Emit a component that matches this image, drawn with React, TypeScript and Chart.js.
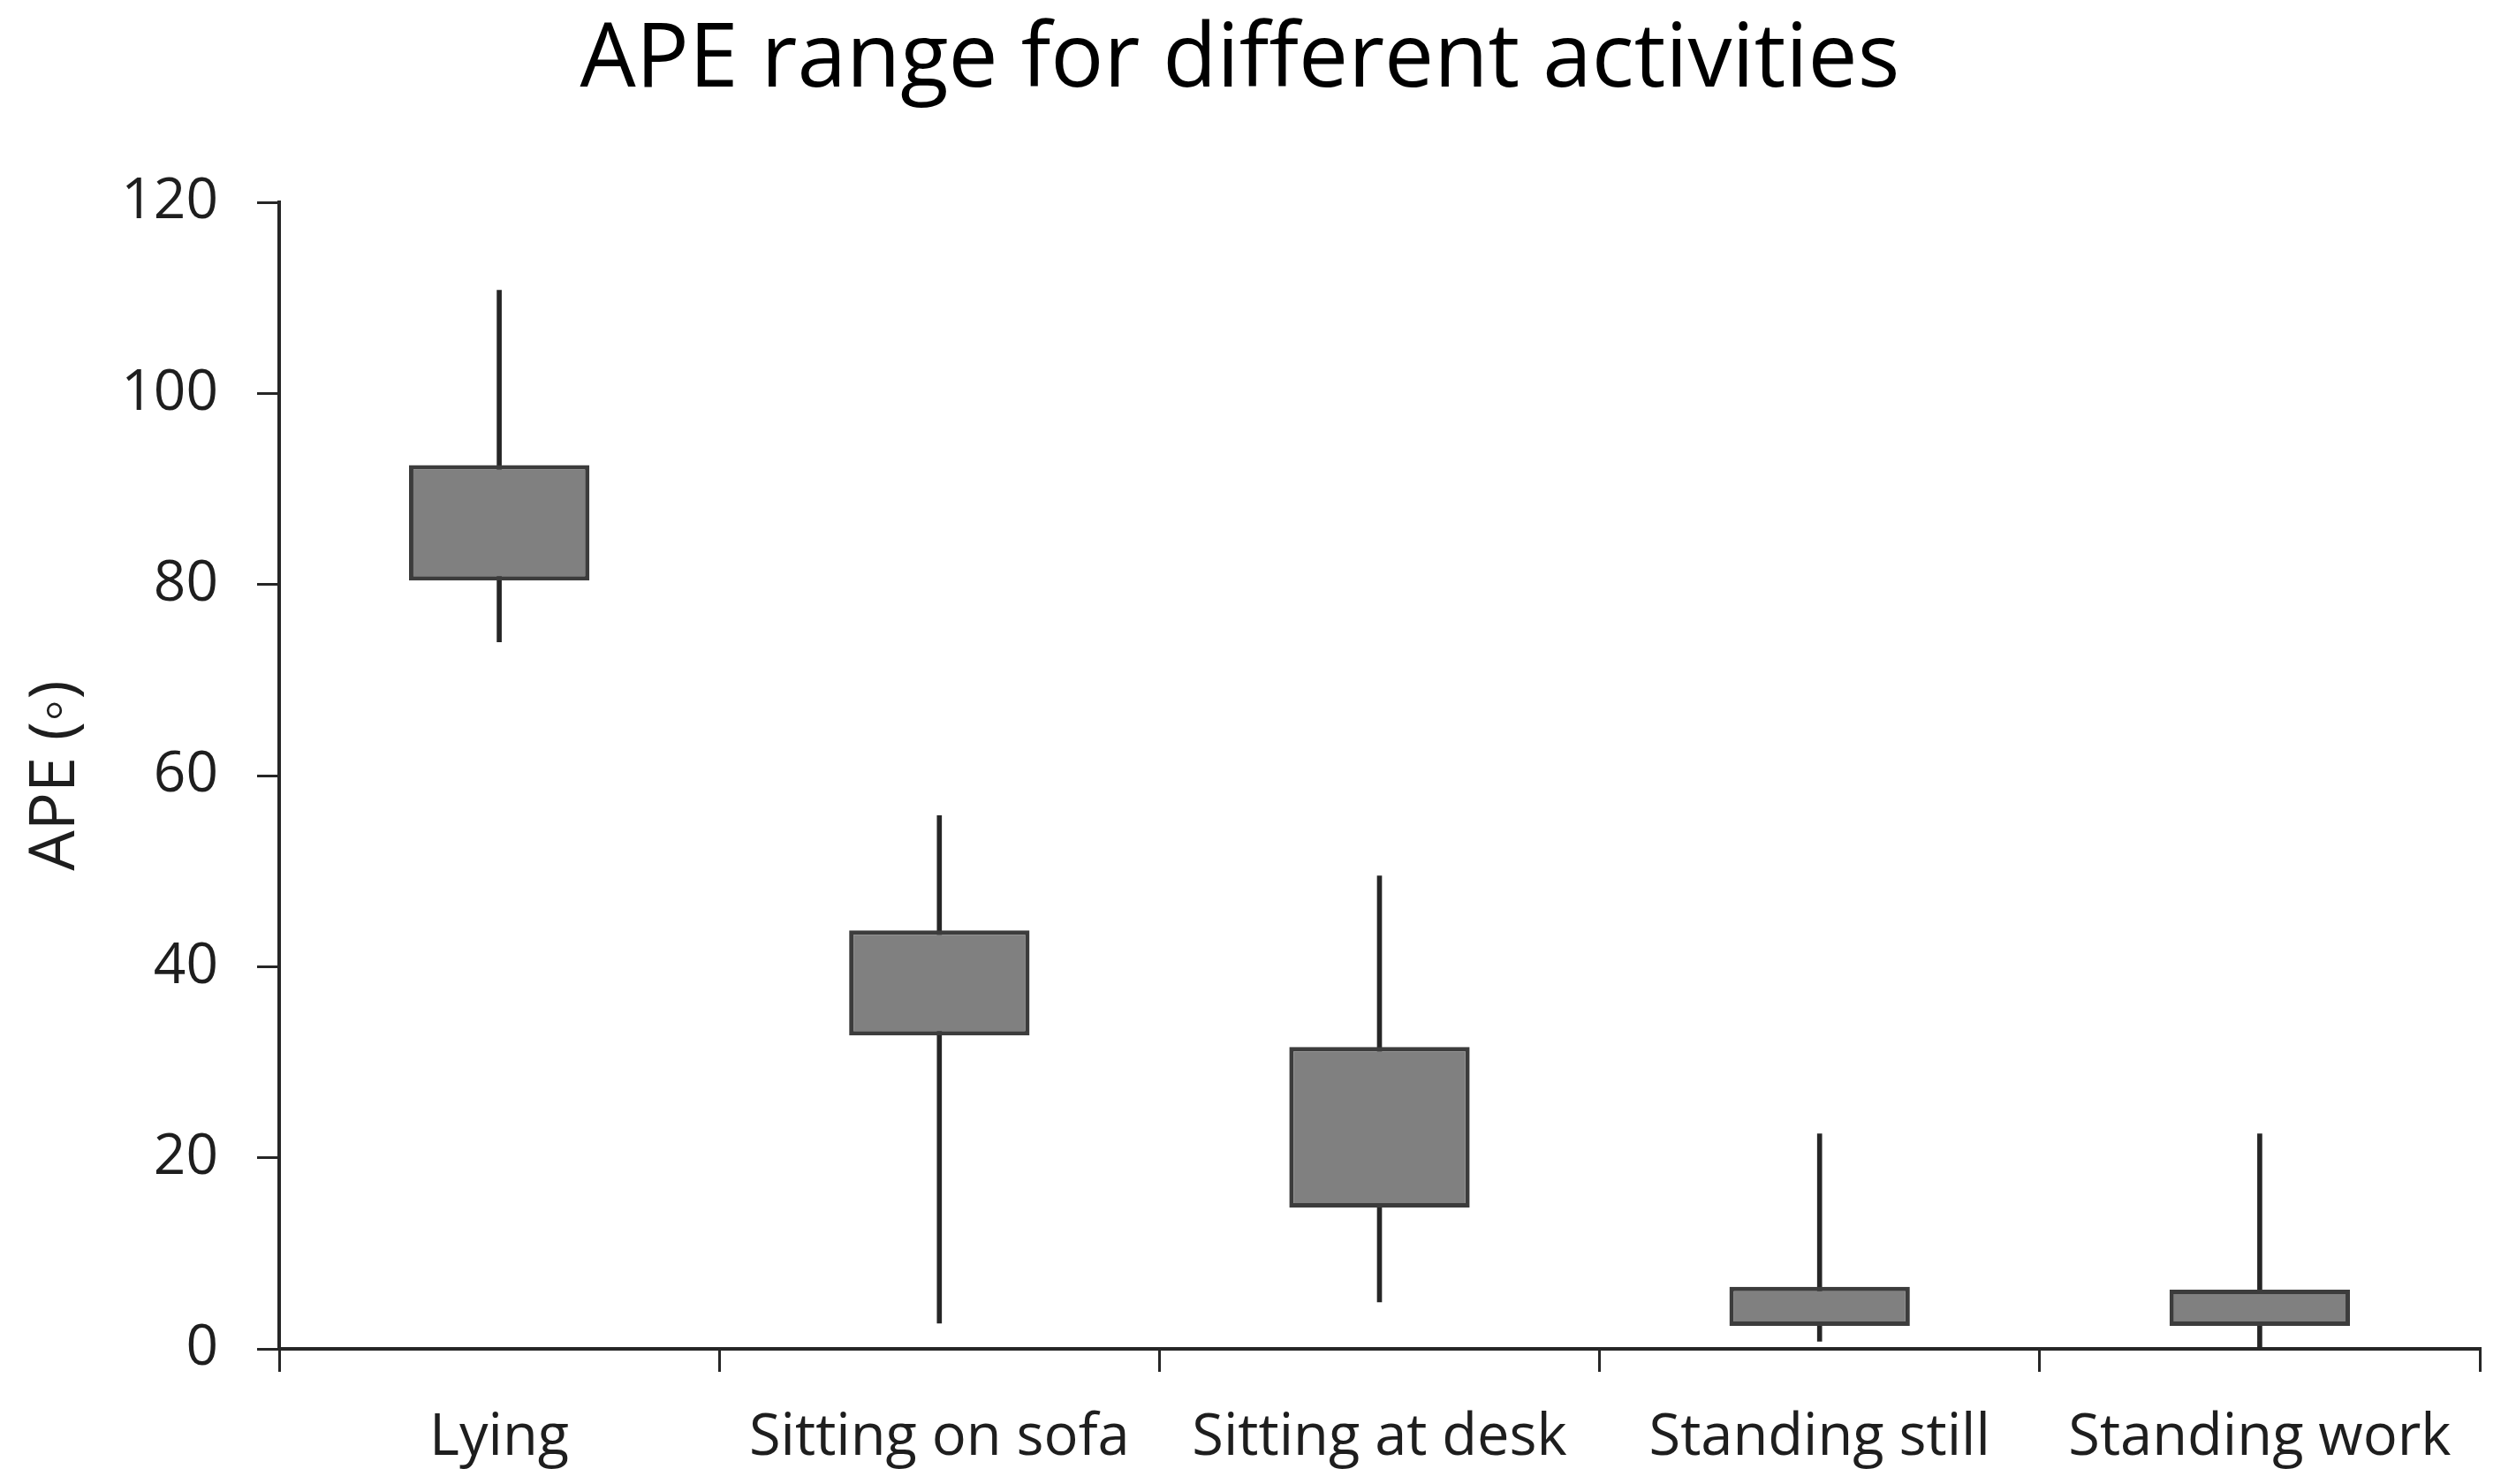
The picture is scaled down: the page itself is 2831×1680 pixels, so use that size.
import React, { useEffect, useRef } from 'react';
import { Chart, registerables } from 'chart.js';

Chart.register(...registerables);

const categories = ['Lying', 'Sitting on sofa', 'Sitting at desk', 'Standing still', 'Standing work'];
const minValues = [74.0, 2.7, 4.9, 0.8, 0.0];
const q1Values = [80.4, 32.8, 14.8, 2.4, 2.4];
const q3Values = [92.5, 43.8, 31.6, 6.5, 6.2];
const maxValues = [110.8, 55.8, 49.5, 22.5, 22.5];
const yMin = 0;
const yMax = 120;
const yStep = 20;

const chartTitle = 'APE range for different activities';
const yAxisTitle = 'APE (\u25E6)';

const FONT = "'Open Sans', 'Noto Sans', sans-serif";
const INK = '#1e1e1e';

export default function App() {
  const canvasRef = useRef<HTMLCanvasElement | null>(null);

  useEffect(() => {
    const canvas = canvasRef.current;
    if (!canvas) return;
    const whiskers = categories.map((_, i) => [minValues[i], maxValues[i]]);
    const boxes = categories.map((_, i) => [q1Values[i], q3Values[i]]);

    const chart = new Chart(canvas, {
      type: 'bar',
      data: {
        labels: categories,
        datasets: [
          {
            label: 'Whisker',
            data: whiskers as any,
            backgroundColor: '#262626',
            borderWidth: 0,
            barThickness: 5,
            order: 2,
          },
          {
            label: 'IQR',
            data: boxes as any,
            backgroundColor: '#808080',
            borderColor: '#3c3c3c',
            borderWidth: 5,
            borderSkipped: false,
            categoryPercentage: 1.0,
            barPercentage: 0.41,
            order: 1,
          },
        ],
      },
      options: {
        responsive: false,
        animation: false,
        devicePixelRatio: 1,
        layout: { padding: { left: 0, right: 24, top: 0, bottom: 0 } },
        plugins: {
          legend: { display: false },
          tooltip: { enabled: false },
          title: {
            display: true,
            text: chartTitle,
            color: '#000000',
            font: { family: FONT, size: 100, weight: 'normal', lineHeight: 1.2 },
            padding: { top: 10, bottom: 99 },
          },
        },
        scales: {
          x: {
            type: 'category',
            stacked: true,
            offset: true,
            afterFit: (scale: any) => {
              scale.height = 153;
            },
            grid: {
              offset: true,
              drawOnChartArea: false,
              drawTicks: true,
              tickLength: 26,
              color: '#262626',
              lineWidth: 3,
            },
            border: { display: true, color: '#262626', width: 4 },
            ticks: {
              color: INK,
              font: { family: FONT, size: 65, lineHeight: 1.2 },
              padding: 36,
              maxRotation: 0,
              autoSkip: false,
            },
          },
          y: {
            type: 'linear',
            stacked: false,
            min: yMin,
            max: yMax,
            afterFit: (scale: any) => {
              scale.width = 316;
            },
            grid: {
              drawOnChartArea: false,
              drawTicks: true,
              tickLength: 25,
              color: '#262626',
              lineWidth: 3,
            },
            border: { display: true, color: '#262626', width: 4 },
            ticks: {
              stepSize: yStep,
              color: INK,
              font: { family: FONT, size: 64, lineHeight: 1.2 },
              padding: 44,
            },
            title: {
              display: true,
              text: yAxisTitle,
              color: INK,
              font: { family: FONT, size: 72, lineHeight: 1.2 },
              padding: { top: 20, bottom: 0 },
            },
          },
        },
      },
    });

    return () => {
      chart.destroy();
    };
  }, []);

  return (
    <div style={{ position: 'fixed', left: 0, top: 0, width: 2831, height: 1680, background: '#ffffff' }}>
      <canvas ref={canvasRef} width={2831} height={1680} style={{ display: 'block' }} />
    </div>
  );
}
